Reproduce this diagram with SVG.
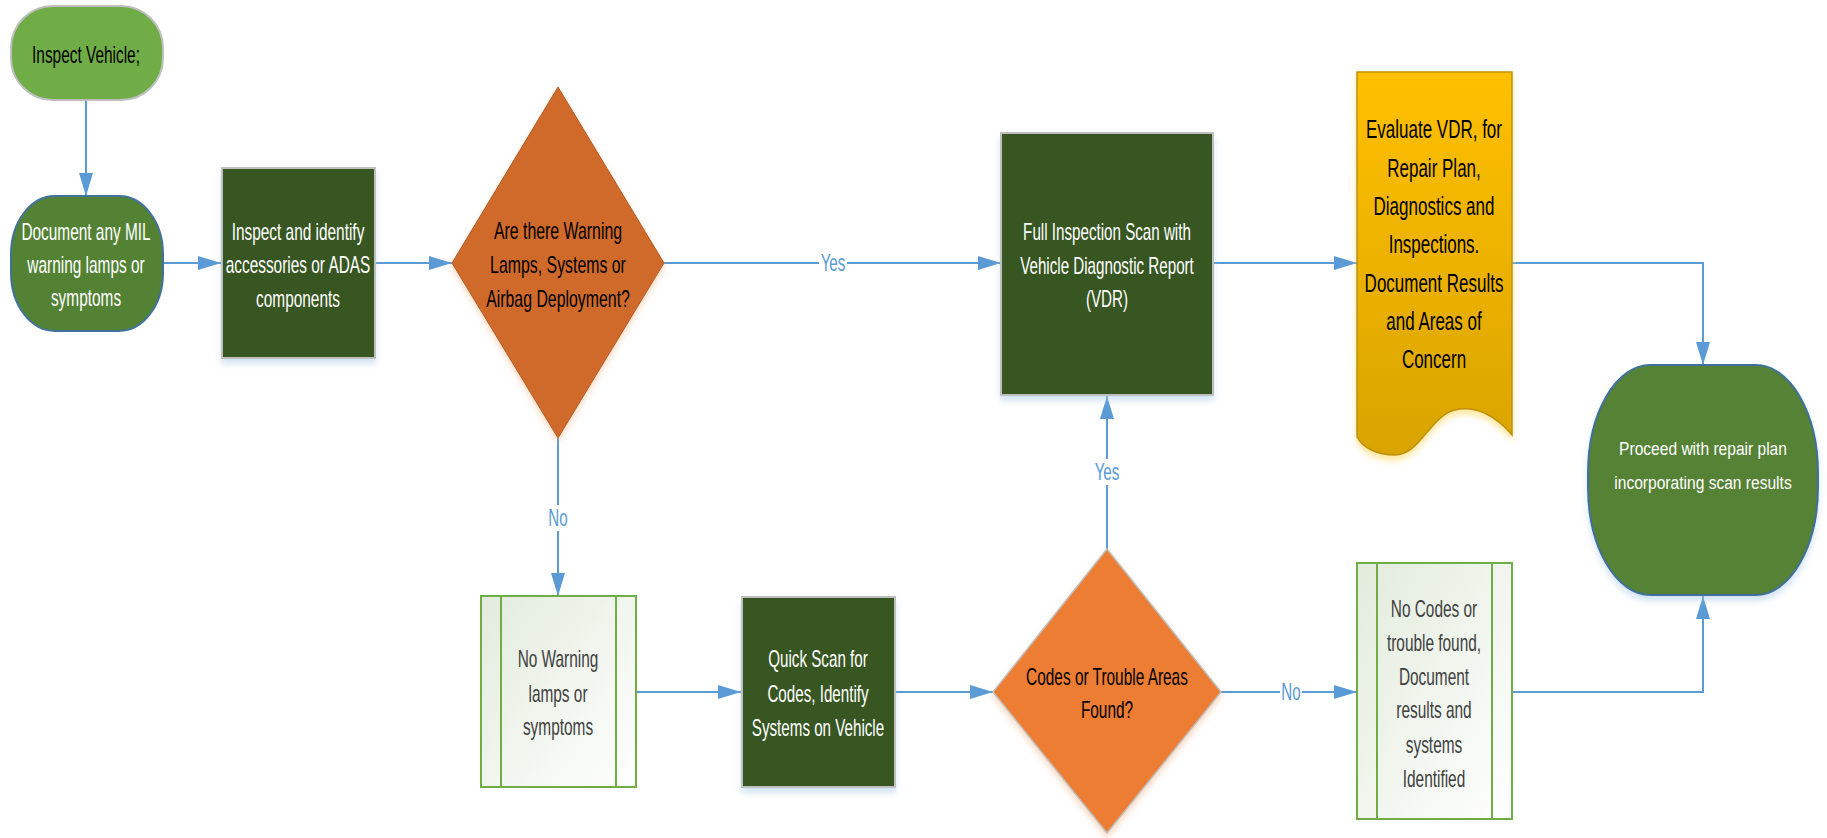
<svg xmlns="http://www.w3.org/2000/svg" width="1827" height="838" viewBox="0 0 1827 838">
<defs>
<style>
.t{font-family:"Liberation Sans",Arial,sans-serif;font-size:23px;text-anchor:middle}
.w{fill:#FFFFFF}
.b{fill:#000000}
.g{fill:#404040}
.lbl{font-family:"Liberation Sans",Arial,sans-serif;font-size:23px;text-anchor:middle;fill:#5B9BD5}
.c{fill:none;stroke:#5B9BD5;stroke-width:2}
.dk{fill:#375623;stroke:#BFBFBF;stroke-width:2}
.lt{fill:url(#lg);stroke:#70AD47;stroke-width:2}
.ln{stroke:#70AD47;stroke-width:2}
</style>
<marker id="ah" markerUnits="userSpaceOnUse" markerWidth="24" markerHeight="16" refX="23" refY="7" orient="auto">
<path d="M0,0 L23,7 L0,14 Z" fill="#5B9BD5"/>
</marker>
<linearGradient id="lg" x1="0" y1="0" x2="1" y2="1">
<stop offset="0" stop-color="#E2EBDC"/>
<stop offset="1" stop-color="#FFFFFF"/>
</linearGradient>
<linearGradient id="yg" x1="0" y1="0" x2="0" y2="1">
<stop offset="0" stop-color="#FFC000"/>
<stop offset="1" stop-color="#D9A400"/>
</linearGradient>
<filter id="sh" x="-10%" y="-10%" width="120%" height="125%">
<feDropShadow dx="0" dy="5" stdDeviation="3" flood-color="#9DC3E6" flood-opacity="0.45"/>
</filter>
<filter id="sho" x="-10%" y="-10%" width="120%" height="125%">
<feDropShadow dx="0" dy="4" stdDeviation="3" flood-color="#F4B183" flood-opacity="0.5"/>
</filter>
<filter id="shy" x="-10%" y="-10%" width="120%" height="125%">
<feDropShadow dx="0" dy="5" stdDeviation="3" flood-color="#FFD966" flood-opacity="0.6"/>
</filter>
</defs>
<rect width="1827" height="838" fill="#FFFFFF"/>

<g id="connectors">
<path class="c" d="M86,100 V196" marker-end="url(#ah)"/>
<path class="c" d="M163,263 H221" marker-end="url(#ah)"/>
<path class="c" d="M375,263 H452" marker-end="url(#ah)"/>
<path class="c" d="M664,263 H1001" marker-end="url(#ah)"/>
<path class="c" d="M1213,263 H1357" marker-end="url(#ah)"/>
<path class="c" d="M1512,263 H1703 V365" marker-end="url(#ah)"/>
<path class="c" d="M558,438 V596" marker-end="url(#ah)"/>
<path class="c" d="M636,692 H741" marker-end="url(#ah)"/>
<path class="c" d="M895,692 H993" marker-end="url(#ah)"/>
<path class="c" d="M1107,549 V396" marker-end="url(#ah)"/>
<path class="c" d="M1221,692 H1357" marker-end="url(#ah)"/>
<path class="c" d="M1512,692 H1703 V596" marker-end="url(#ah)"/>
<rect x="819" y="250" width="28" height="26" fill="#FFFFFF"/>
<text class="lbl" transform="translate(833,0) scale(0.66,1)" x="0" y="271">Yes</text>
<rect x="547" y="505" width="22" height="26" fill="#FFFFFF"/>
<text class="lbl" transform="translate(558,0) scale(0.66,1)" x="0" y="526">No</text>
<rect x="1093" y="459" width="28" height="26" fill="#FFFFFF"/>
<text class="lbl" transform="translate(1107,0) scale(0.66,1)" x="0" y="480">Yes</text>
<rect x="1280" y="679" width="22" height="26" fill="#FFFFFF"/>
<text class="lbl" transform="translate(1291,0) scale(0.66,1)" x="0" y="700">No</text>
</g>

<g id="inspect-vehicle">
<rect x="11" y="6" width="152" height="94" rx="42" ry="42" fill="#70AD47" stroke="#BFBFBF" stroke-width="2"/>
<text class="t b" transform="translate(86,0) scale(0.67,1)" x="0" y="63">Inspect Vehicle;</text>
</g>

<g id="document-mil">
<rect x="11" y="196" width="152" height="135" rx="44" ry="58" fill="#548235" stroke="#41719C" stroke-width="2"/>
<text class="t w" transform="translate(86,0) scale(0.67,1)"><tspan x="0" y="240">Document any MIL</tspan><tspan x="0" y="273">warning lamps or</tspan><tspan x="0" y="306">symptoms</tspan></text>
</g>

<g id="inspect-identify">
<rect class="dk" x="222" y="168" width="153" height="190" filter="url(#sh)"/>
<text class="t w" transform="translate(298,0) scale(0.67,1)"><tspan x="0" y="240">Inspect and identify</tspan><tspan x="0" y="273">accessories or ADAS</tspan><tspan x="0" y="307">components</tspan></text>
</g>

<g id="decision-warning">
<path d="M558,87 L664,263 L558,438 L452,263 Z" fill="#D06B2B" stroke="#B35A20" stroke-width="1" filter="url(#sho)"/>
<text class="t b" transform="translate(558,0) scale(0.69,1)"><tspan x="0" y="239">Are there Warning</tspan><tspan x="0" y="273">Lamps, Systems or</tspan><tspan x="0" y="307">Airbag Deployment?</tspan></text>
</g>

<g id="full-inspection">
<rect class="dk" x="1001" y="133" width="212" height="262" filter="url(#sh)"/>
<text class="t w" transform="translate(1107,0) scale(0.66,1)"><tspan x="0" y="240">Full Inspection Scan with</tspan><tspan x="0" y="274">Vehicle Diagnostic Report</tspan><tspan x="0" y="307">(VDR)</tspan></text>
</g>

<g id="evaluate-vdr">
<path d="M1357,72 H1512 V435 C1496,416 1476,405 1455,410 C1430,416 1420,455 1395,455 C1376,455 1362,447 1357,437 Z" fill="url(#yg)" stroke="#BF9000" stroke-width="1.5" filter="url(#shy)"/>
<text class="t b" style="font-size:25px" transform="translate(1434,0) scale(0.68,1)"><tspan x="0" y="138">Evaluate VDR, for</tspan><tspan x="0" y="177">Repair Plan,</tspan><tspan x="0" y="215">Diagnostics and</tspan><tspan x="0" y="253">Inspections.</tspan><tspan x="0" y="292">Document Results</tspan><tspan x="0" y="330">and Areas of</tspan><tspan x="0" y="368">Concern</tspan></text>
</g>

<g id="proceed">
<rect x="1588" y="365" width="230" height="230" rx="62" ry="108" fill="#548235" stroke="#41719C" stroke-width="2" filter="url(#sh)"/>
<text class="t w" style="font-size:19px" transform="translate(1703,0) scale(0.82,1)"><tspan x="0" y="455">Proceed with repair plan</tspan><tspan x="0" y="489">incorporating scan results</tspan></text>
</g>

<g id="no-warning">
<rect class="lt" x="481" y="596" width="155" height="191"/>
<line class="ln" x1="501" y1="596" x2="501" y2="787"/>
<line class="ln" x1="616" y1="596" x2="616" y2="787"/>
<text class="t g" transform="translate(558,0) scale(0.67,1)"><tspan x="0" y="667">No Warning</tspan><tspan x="0" y="702">lamps or</tspan><tspan x="0" y="735">symptoms</tspan></text>
</g>

<g id="quick-scan">
<rect class="dk" x="742" y="597" width="153" height="190" filter="url(#sh)"/>
<text class="t w" transform="translate(818,0) scale(0.66,1)"><tspan x="0" y="667">Quick Scan for</tspan><tspan x="0" y="702">Codes, Identify</tspan><tspan x="0" y="736">Systems on Vehicle</tspan></text>
</g>

<g id="decision-codes">
<path d="M1107,549 L1221,692 L1107,833 L993,692 Z" fill="#ED7D31" stroke="#BFBFBF" stroke-width="1.5" filter="url(#sho)"/>
<text class="t b" transform="translate(1107,0) scale(0.67,1)"><tspan x="0" y="685">Codes or Trouble Areas</tspan><tspan x="0" y="718">Found?</tspan></text>
</g>

<g id="no-codes">
<rect class="lt" x="1357" y="563" width="155" height="256"/>
<line class="ln" x1="1377" y1="563" x2="1377" y2="819"/>
<line class="ln" x1="1492" y1="563" x2="1492" y2="819"/>
<text class="t g" transform="translate(1434,0) scale(0.67,1)"><tspan x="0" y="617">No Codes or</tspan><tspan x="0" y="651">trouble found,</tspan><tspan x="0" y="685">Document</tspan><tspan x="0" y="718">results and</tspan><tspan x="0" y="753">systems</tspan><tspan x="0" y="787">Identified</tspan></text>
</g>
</svg>
